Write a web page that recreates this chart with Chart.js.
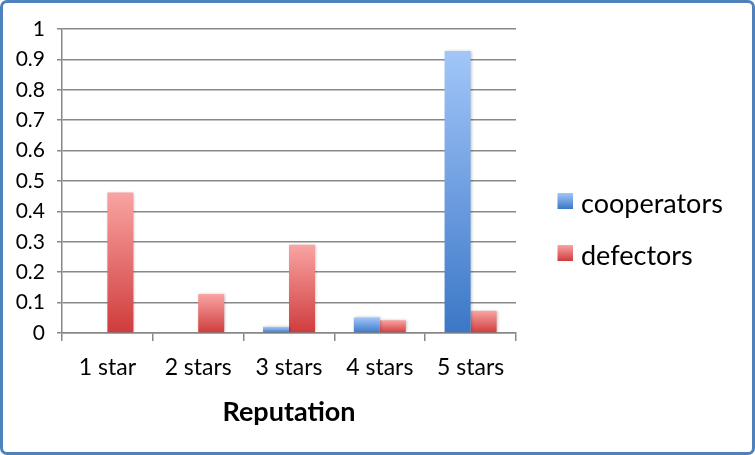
<!DOCTYPE html>
<html>
<head>
<meta charset="utf-8">
<script src="https://cdn.jsdelivr.net/npm/chart.js@4/dist/chart.umd.min.js"></script>
<style>
  html, body { margin: 0; padding: 0; background: #ffffff; }
  #frame {
    position: absolute; left: 0; top: 0;
    width: 755px; height: 455px; box-sizing: border-box;
    border: 3px solid #4f81bd; border-radius: 7px; background: #ffffff;
  }
  #c { display: block; }
</style>
</head>
<body>
<div id="frame"><canvas id="c" width="749" height="449"></canvas></div>
<script>
// ---- data ----
const categories = ["1 star", "2 stars", "3 stars", "4 stars", "5 stars"];
const seriesNames = ["cooperators", "defectors"];
const cooperators = [0, 0, 0.02, 0.051, 0.928];
const defectors = [0.462, 0.128, 0.290, 0.042, 0.073];
const yTickValues = [0, 0.1, 0.2, 0.3, 0.4, 0.5, 0.6, 0.7, 0.8, 0.9, 1];
const yTickLabels = ["0", "0.1", "0.2", "0.3", "0.4", "0.5", "0.6", "0.7", "0.8", "0.9", "1"];
const xTitle = "Reputation";

// ---- styles ----
const FONT = "Lato, 'Open Sans', sans-serif";
const palettes = {
  cooperators: { top: "#a2c6f9", bottom: "#3b77c7", solid: "#5a90da" },
  defectors: { top: "#f9a4a3", bottom: "#cf3c3c", solid: "#e06666" }
};
const GRID = "#888888";

function barGradient(name) {
  const p = palettes[name];
  return function (ctx) {
    const chart = ctx.chart;
    if (!chart.chartArea || ctx.type !== "data") return p.solid;
    const ys = chart.scales.y;
    const v = ctx.raw;
    const top = ys.getPixelForValue(v);
    const bottom = ys.getPixelForValue(0);
    if (bottom - top < 1) return p.solid;
    const g = chart.ctx.createLinearGradient(0, top, 0, bottom);
    g.addColorStop(0, p.top);
    g.addColorStop(1, p.bottom);
    return g;
  };
}

const shadowPlugin = {
  id: "barShadow",
  beforeDatasetsDraw(chart) {
    const c = chart.ctx;
    c.save();
    c.shadowColor = "rgba(0,0,0,0.28)";
    c.shadowBlur = 3;
    c.shadowOffsetX = 1;
    c.shadowOffsetY = 0;
  },
  afterDatasetsDraw(chart) { chart.ctx.restore(); }
};

const legendPlugin = {
  id: "sideLegend",
  afterDraw(chart) {
    const c = chart.ctx;
    const boxX = chart.chartArea.right + 41.5;
    const textX = boxX + 23.5;
    const rows = [190, 242];
    c.save();
    chart.data.datasets.forEach((ds, i) => {
      const p = palettes[ds.label];
      const y = rows[i];
      const g = c.createLinearGradient(0, y, 0, y + 16);
      g.addColorStop(0, p.top);
      g.addColorStop(1, p.bottom);
      c.fillStyle = g;
      c.fillRect(boxX, y, 15.5, 16);
      c.fillStyle = "#000000";
      c.font = "27px " + FONT;
      c.textBaseline = "alphabetic";
      c.textAlign = "left";
      c.fillText(ds.label, textX, y + 20);
    });
    c.restore();
  }
};

new Chart(document.getElementById("c"), {
  type: "bar",
  data: {
    labels: categories,
    datasets: [
      { label: seriesNames[0], data: cooperators, backgroundColor: barGradient("cooperators"), borderWidth: 0 },
      { label: seriesNames[1], data: defectors, backgroundColor: barGradient("defectors"), borderWidth: 0 }
    ]
  },
  options: {
    responsive: false,
    animation: false,
    devicePixelRatio: 1,
    layout: { padding: { top: 26, right: 236, left: 0, bottom: 0 } },
    datasets: { bar: { categoryPercentage: 0.573, barPercentage: 1.0 } },
    plugins: {
      legend: { display: false },
      tooltip: { enabled: false },
      title: { display: false }
    },
    scales: {
      x: {
        grid: { drawOnChartArea: false, drawTicks: true, tickLength: 8, color: GRID, lineWidth: 1.5, offset: true },
        border: { display: true, color: GRID, width: 1.5 },
        ticks: { color: "#000000", font: { family: FONT, size: 23 }, padding: 13, maxRotation: 0 },
        title: { display: true, text: xTitle, color: "#000000", font: { family: FONT, size: 27, weight: "bold" }, padding: { top: 4, bottom: 24 } },
        afterFit(scale) { scale.height = 119; }
      },
      y: {
        min: 0, max: 1,
        afterBuildTicks(scale) { scale.ticks = yTickValues.map(v => ({ value: v })); },
        grid: { color: GRID, lineWidth: 1.5, drawTicks: true, tickLength: 5 },
        border: { display: true, color: GRID, width: 1.5 },
        ticks: {
          color: "#000000", font: { family: FONT, size: 21 }, padding: 12,
          callback: (v) => yTickLabels[yTickValues.indexOf(v)] ?? ""
        },
        afterFit(scale) { scale.width = 59; }
      }
    }
  },
  plugins: [shadowPlugin, legendPlugin]
});
</script>
</body>
</html>
